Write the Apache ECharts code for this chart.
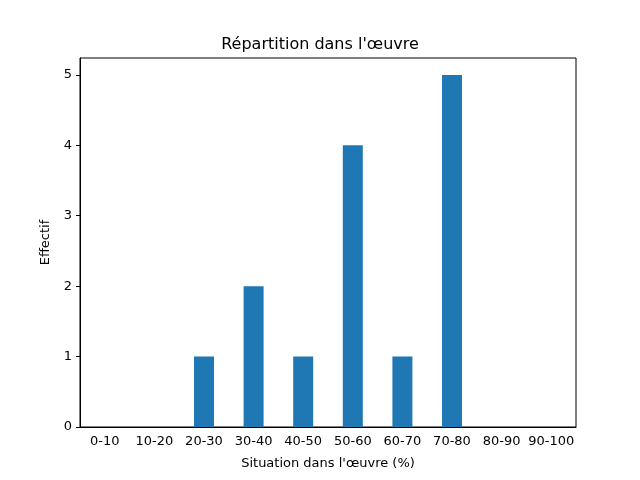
<!DOCTYPE html>
<html>
<head>
<meta charset="utf-8">
<script src="https://cdn.jsdelivr.net/npm/echarts@6/dist/echarts.min.js"></script>
</head>
<body style="margin:0">
<div id="main" style="width:640px;height:480px"></div>
<script>
var categories = ['0-10', '10-20', '20-30', '30-40', '40-50', '50-60', '60-70', '70-80', '80-90', '90-100'];
var counts = [0, 0, 1, 2, 1, 4, 1, 5, 0, 0];

var myChart = echarts.init(document.getElementById('main'));
var font = 'DejaVu Sans';
var option = {
    backgroundColor: '#fff',
    animation: false,
    title: {
        text: "Répartition dans l'œuvre",
        left: 'center',
        top: 32,
        textStyle: { fontFamily: font, fontSize: 16, fontWeight: 'normal', color: '#000' }
    },
    grid: { left: 80, right: 64, top: 58, bottom: 53, show: true, borderColor: '#000', borderWidth: 1 },
    xAxis: {
        type: 'category',
        data: categories,
        name: "Situation dans l'œuvre (%)",
        nameLocation: 'middle',
        nameGap: 30,
        nameTextStyle: { fontFamily: font, fontSize: 13, color: '#000' },
        axisLine: { lineStyle: { color: '#000' } },
        axisTick: { alignWithLabel: true, length: 4, lineStyle: { color: '#000' } },
        axisLabel: { fontFamily: font, fontSize: 13, color: '#000', interval: 0 }
    },
    yAxis: {
        type: 'value',
        min: 0,
        max: 5.24,
        interval: 1,
        name: 'Effectif',
        nameLocation: 'middle',
        nameGap: 28,
        nameTextStyle: { fontFamily: font, fontSize: 13, color: '#000' },
        splitLine: { show: false },
        axisLine: { show: true, lineStyle: { color: '#000' } },
        axisTick: { show: true, length: 4, lineStyle: { color: '#000' } },
        axisLabel: { fontFamily: font, fontSize: 13, color: '#000', showMaxLabel: false,
            formatter: function (v) { return Number.isInteger(v) ? v : ''; } }
    },
    series: [{
        type: 'bar',
        data: counts,
        barWidth: 20,
        itemStyle: { color: '#1f77b4' }
    }]
};
myChart.setOption(option);
</script>
</body>
</html>
